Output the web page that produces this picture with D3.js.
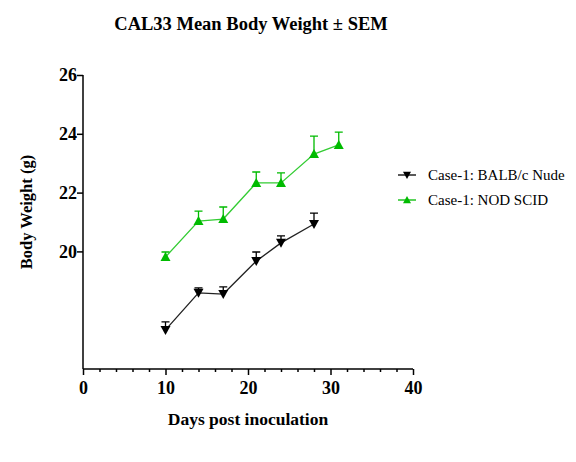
<!DOCTYPE html>
<html><head><meta charset="utf-8">
<script src="https://cdn.jsdelivr.net/npm/d3@7"></script>
<style>body{margin:0;background:#fff}</style>
</head><body>
<script>
const days = [10, 14, 17, 21, 24, 28, 31];
const balbMean = [17.33, 18.59, 18.55, 19.67, 20.29, 20.93];
const balbSem  = [0.27, 0.17, 0.24, 0.31, 0.24, 0.37];
const nodMean  = [19.81, 21.03, 21.10, 22.33, 22.33, 23.31, 23.62];
const nodSem   = [0.17, 0.34, 0.41, 0.37, 0.34, 0.61, 0.44];
const seriesNames = ["Case-1: BALB/c Nude", "Case-1: NOD SCID"];
const yTicks = [20, 22, 24, 26];
const xTicks = [0, 10, 20, 30, 40];

const W = 576, H = 462;
const svg = d3.select("body").append("svg").attr("width", W).attr("height", H);
const font = "'Liberation Serif','Times New Roman',serif";

const x = d3.scaleLinear().domain([0, 40]).range([83, 413]);
const y = d3.scaleLinear().domain([16, 26]).range([369, 75]);

// axes
const gy = svg.append("g").attr("transform", "translate(83,0)")
  .call(d3.axisLeft(y).tickValues(yTicks).tickSize(6).tickFormat(d3.format("d")));
gy.select(".domain").attr("d", `M0,${y(26)}V${y(16)}`);
const gx = svg.append("g").attr("transform", "translate(0,369)")
  .call(d3.axisBottom(x).tickValues(xTicks).tickSize(6).tickPadding(6).tickFormat(d3.format("d")));
gx.select(".domain").attr("d", `M${x(0)},0H${x(40)}`);
const gxm = svg.append("g").attr("transform", "translate(0,369)")
  .call(d3.axisBottom(x).tickValues(d3.range(0, 41, 2).filter(v => v % 10 !== 0)).tickSize(3).tickFormat(""));
gxm.select(".domain").remove();
[gy, gx, gxm].forEach(g => {
  g.selectAll("path,line").attr("stroke", "#000").attr("stroke-width", 1.5);
  g.selectAll("text").attr("font-family", font).attr("font-weight", "bold")
    .attr("font-size", 18).attr("fill", "#000");
});
gy.selectAll("text").attr("x", -6);

function drawSeries(means, sems, color, lineColor, shape) {
  const pts = means.map((m, i) => ({d: days[i], m, s: sems[i]}));
  const g = svg.append("g");
  g.append("path").datum(pts)
    .attr("d", d3.line().x(p => x(p.d)).y(p => y(p.m)))
    .attr("fill", "none").attr("stroke", lineColor).attr("stroke-width", 1.3);
  g.selectAll(".eb").data(pts).enter().append("path")
    .attr("d", p => `M${x(p.d)},${y(p.m)}V${y(p.m + p.s)}M${x(p.d)-4},${y(p.m + p.s)}H${x(p.d)+4}`)
    .attr("stroke", color).attr("stroke-width", 1.3).attr("fill", "none");
  g.selectAll(".mk").data(pts).enter().append("path")
    .attr("transform", p => `translate(${x(p.d)},${y(p.m)})`)
    .attr("d", shape)
    .attr("fill", color);
}
const down = "M-5,-4L5,-4L0,5Z";
const up = "M-5,4L5,4L0,-5Z";
drawSeries(balbMean, balbSem, "#000", "#222", down);
drawSeries(nodMean, nodSem, "#00bb00", "#33cc33", up);

// title and labels
svg.append("text").attr("x", 251).attr("y", 30).attr("text-anchor", "middle")
  .attr("font-family", font).attr("font-weight", "bold").attr("font-size", 18.5)
  .text("CAL33 Mean Body Weight \u00b1 SEM");
svg.append("text").attr("transform", "translate(32,212) rotate(-90)").attr("text-anchor", "middle")
  .attr("font-family", font).attr("font-weight", "bold").attr("font-size", 16.5)
  .text("Body Weight (g)");
svg.append("text").attr("x", 248).attr("y", 425).attr("text-anchor", "middle")
  .attr("font-family", font).attr("font-weight", "bold").attr("font-size", 17.5)
  .text("Days post inoculation");

// legend
const legend = [
  {name: seriesNames[0], color: "#000", shape: down},
  {name: seriesNames[1], color: "#00bb00", shape: up}
];
legend.forEach((l, i) => {
  const ly = 175 + i * 25;
  svg.append("line").attr("x1", 398).attr("x2", 416).attr("y1", ly).attr("y2", ly)
    .attr("stroke", l.color).attr("stroke-width", 1.3);
  svg.append("path").attr("d", l.shape)
    .attr("fill", l.color).attr("transform", `translate(407,${ly}) scale(0.8)`);
  svg.append("text").attr("x", 428).attr("y", ly + 5).attr("font-family", font)
    .attr("font-size", 15).attr("fill", "#000").text(l.name);
});
</script>
</body></html>
